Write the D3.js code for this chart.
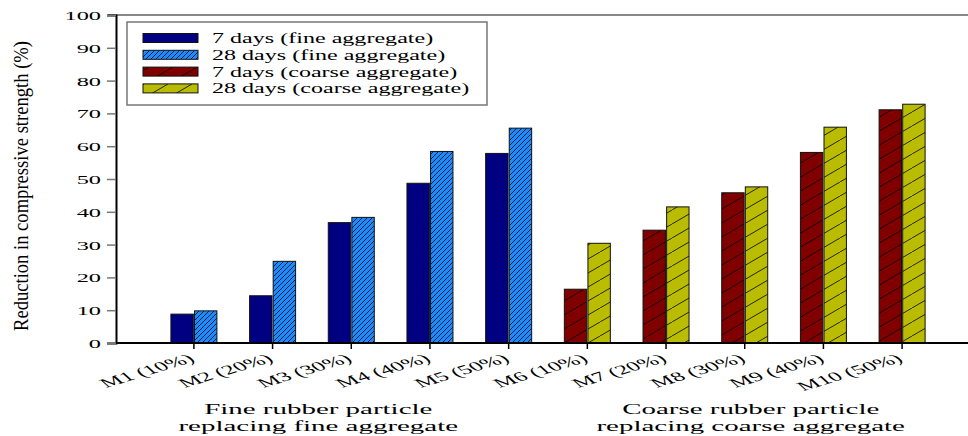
<!DOCTYPE html>
<html><head><meta charset="utf-8">
<script src="https://cdn.jsdelivr.net/npm/d3@7"></script>
<style>body{margin:0;background:#fff}svg{display:block}text{font-family:"Liberation Serif","DejaVu Serif",serif}</style>
</head><body><svg id="c" width="968" height="436"></svg>
<script>
const categories = ["M1 (10%)","M2 (20%)","M3 (30%)","M4 (40%)","M5 (50%)","M6 (10%)","M7 (20%)","M8 (30%)","M9 (40%)","M10 (50%)"];
const days7 = [8.8,14.4,36.7,48.7,57.8,16.4,34.4,45.8,58.1,71.1];
const days28 = [9.8,24.9,38.3,58.4,65.5,30.4,41.5,47.6,65.8,72.8];
const yTicks = [0,10,20,30,40,50,60,70,80,90,100];
const legendLabels = ["7 days (fine aggregate)","28 days (fine aggregate)","7 days (coarse aggregate)","28 days (coarse aggregate)"];
const groupLabels = [["Fine rubber particle","replacing fine aggregate"],["Coarse rubber particle","replacing coarse aggregate"]];
const yTitle = "Reduction in compressive strength (%)";

const svg = d3.select("#c");
const defs = svg.append("defs");
const pFine = defs.append("pattern").attr("id","hFine").attr("patternUnits","userSpaceOnUse").attr("width",5).attr("height",5);
pFine.append("rect").attr("width",5).attr("height",5).attr("fill","#1a8cff");
pFine.append("path").attr("d","M0,5L5,0M-1,1L1,-1M4,6L6,4").attr("stroke","#000").attr("stroke-width",0.8);
function coarse(id, col){
  const p = defs.append("pattern").attr("id",id).attr("patternUnits","userSpaceOnUse").attr("width",24).attr("height",14);
  p.append("rect").attr("width",24).attr("height",14).attr("fill",col);
  p.append("path").attr("d","M0,14L24,0M-24,14L0,0M24,14L48,0").attr("stroke","#000").attr("stroke-width",0.8);
}
coarse("hRed","#800000");
coarse("hYel","#b9bc00");
const fills = ["#000080","url(#hFine)","url(#hRed)","url(#hYel)"];

const y = d3.scaleLinear().domain([0,100]).range([343,15]);
const x = d3.scaleBand().domain(categories).range([116,980]).paddingInner(0).paddingOuter(0.49);
const xs = d3.scaleBand().domain(["7","28"]).range([-23,23]).paddingInner(0.05);
const cx = c => x(c) + x.bandwidth()/2;

svg.append("line").attr("x1",108).attr("x2",968).attr("y1",y(100)).attr("y2",y(100)).attr("stroke","#888").attr("stroke-width",2);

const rows = categories.map((c,i)=>({c,i,v7:days7[i],v28:days28[i]}));
const g = svg.append("g");
rows.forEach(r=>{
  const coarseGrp = r.i>=5;
  [["7",r.v7,coarseGrp?fills[2]:fills[0]],["28",r.v28,coarseGrp?fills[3]:fills[1]]].forEach(([k,v,f])=>{
    g.append("rect").attr("x",cx(r.c)+xs(k)).attr("width",xs.bandwidth())
      .attr("y",y(v)).attr("height",y(0)-y(v)).attr("fill",f)
      .attr("stroke","#111").attr("stroke-width",1);
  });
});

const ya = svg.append("g").attr("transform","translate(116,0)")
  .call(d3.axisLeft(y).tickValues(yTicks).tickSize(9).tickPadding(0));
ya.select(".domain").attr("stroke","#000").attr("stroke-width",2);
ya.selectAll(".tick line").attr("stroke","#777").attr("stroke-width",1.5);
ya.selectAll(".tick text").attr("x",0).attr("dy","0.36em").attr("font-size",12.5)
  .attr("transform","translate(-15,0) scale(1.95,1)").attr("fill","#000");

const xa = svg.append("g").attr("transform","translate(0,343)")
  .call(d3.axisBottom(x).tickSize(6).tickSizeOuter(0));
xa.select(".domain").attr("d","M116,0H968").attr("stroke","#000").attr("stroke-width",2);
xa.selectAll(".tick line").attr("stroke","#000").attr("stroke-width",1.5);
xa.selectAll(".tick text").attr("y",0).attr("dy",0).attr("font-size",13).attr("text-anchor","end").attr("fill","#000")
  .attr("transform","translate(2,18) scale(1.93,1) rotate(-30)");

const gc = [ (cx(categories[0])+cx(categories[4]))/2 - 33, (cx(categories[5])+cx(categories[9]))/2 + 6 ];
groupLabels.forEach((lines,gi)=>{
  lines.forEach((t,li)=>{
    svg.append("text").attr("text-anchor","middle").attr("font-size",15)
      .attr("transform",`translate(${gc[gi]},${414+li*16.5}) scale(1.93,1)`).text(t);
  });
});

svg.append("text").attr("transform","translate(28,186) rotate(-90)").attr("text-anchor","middle")
  .attr("font-size",21).attr("textLength",290).attr("lengthAdjust","spacingAndGlyphs").text(yTitle);

const lg = svg.append("g");
lg.append("rect").attr("x",127).attr("y",22).attr("width",360).attr("height",83).attr("fill","#fff").attr("stroke","#777").attr("stroke-width",1.5);
legendLabels.forEach((t,i)=>{
  const yy = 33.5 + i*16.8;
  lg.append("rect").attr("x",143).attr("y",yy).attr("width",55).attr("height",9).attr("fill",fills[i]).attr("stroke","#111").attr("stroke-width",1);
  lg.append("text").attr("font-size",14).attr("transform",`translate(212,${yy+9.5}) scale(1.72,1)`).text(t);
});
</script></body></html>
